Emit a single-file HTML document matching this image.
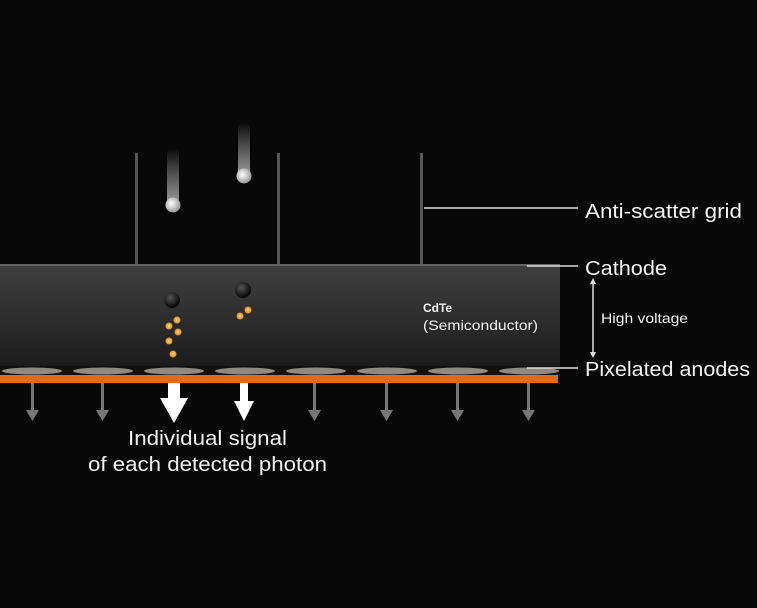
<!DOCTYPE html>
<html><head><meta charset="utf-8"><style>
html,body{margin:0;padding:0;background:#080808;width:757px;height:608px;overflow:hidden}
text{font-family:"Liberation Sans",sans-serif;fill:#f2f2f2}
</style></head><body>
<svg width="757" height="608" viewBox="0 0 757 608" xmlns="http://www.w3.org/2000/svg">
<defs>
<linearGradient id="slab" x1="0" y1="0" x2="0" y2="1">
<stop offset="0" stop-color="#404040"/><stop offset="1" stop-color="#1c1c1c"/></linearGradient>
<linearGradient id="tail" x1="0" y1="0" x2="0" y2="1">
<stop offset="0" stop-color="#fff" stop-opacity="0"/><stop offset="1" stop-color="#ddd" stop-opacity="0.7"/></linearGradient>
<radialGradient id="ball" cx="0.4" cy="0.4" r="0.6">
<stop offset="0" stop-color="#fff"/><stop offset="1" stop-color="#999"/></radialGradient>
<radialGradient id="dball" cx="0.4" cy="0.35" r="0.6">
<stop offset="0" stop-color="#555"/><stop offset="1" stop-color="#0a0a0a"/></radialGradient>
<radialGradient id="od" cx="0.5" cy="0.5" r="0.5">
<stop offset="0" stop-color="#ffd48a"/><stop offset="1" stop-color="#d98a20"/></radialGradient>
</defs>
<rect width="757" height="608" fill="#080808"/>
<g fill="#555"><rect x="135" y="153" width="3" height="112"/><rect x="277" y="153" width="3" height="112"/><rect x="420" y="153" width="3" height="112"/></g>
<rect x="167" y="148" width="12" height="58" rx="6" fill="url(#tail)"/>
<circle cx="173" cy="205" r="7.5" fill="url(#ball)"/>
<rect x="238" y="122" width="12" height="56" rx="6" fill="url(#tail)"/>
<circle cx="244" cy="176" r="7.5" fill="url(#ball)"/>
<rect x="0" y="265" width="560" height="101" fill="url(#slab)"/>
<rect x="0" y="264" width="560" height="2" fill="#666"/>
<rect x="0" y="366" width="560" height="9" fill="#111"/>
<g fill="#8a8a8a">
<ellipse cx="32" cy="371" rx="30" ry="3.5"/><ellipse cx="103" cy="371" rx="30" ry="3.5"/><ellipse cx="174" cy="371" rx="30" ry="3.5"/><ellipse cx="245" cy="371" rx="30" ry="3.5"/><ellipse cx="316" cy="371" rx="30" ry="3.5"/><ellipse cx="387" cy="371" rx="30" ry="3.5"/><ellipse cx="458" cy="371" rx="30" ry="3.5"/><ellipse cx="529" cy="371" rx="30" ry="3.5"/>
</g>
<rect x="0" y="375" width="558" height="8" fill="#e8690f"/>
<circle cx="172" cy="300" r="8" fill="url(#dball)"/>
<circle cx="243" cy="290" r="8" fill="url(#dball)"/>
<g fill="url(#od)">
<circle cx="177" cy="320" r="3.5"/><circle cx="169" cy="326" r="3.5"/><circle cx="178" cy="332" r="3.5"/><circle cx="169" cy="341" r="3.5"/><circle cx="173" cy="354" r="3.5"/>
<circle cx="248" cy="310" r="3.5"/><circle cx="240" cy="316" r="3.5"/>
</g>
<g fill="#777">
<rect x="31" y="383" width="3" height="28"/><polygon points="26,410 39,410 32.5,421"/>
<rect x="101" y="383" width="3" height="28"/><polygon points="96,410 109,410 102.5,421"/>
<rect x="313" y="383" width="3" height="28"/><polygon points="308,410 321,410 314.5,421"/>
<rect x="385" y="383" width="3" height="28"/><polygon points="380,410 393,410 386.5,421"/>
<rect x="456" y="383" width="3" height="28"/><polygon points="451,410 464,410 457.5,421"/>
<rect x="527" y="383" width="3" height="28"/><polygon points="522,410 535,410 528.5,421"/>
</g>
<g fill="#fff">
<rect x="168" y="383" width="12" height="17"/><polygon points="160,398 188,398 174,423"/>
<rect x="240" y="383" width="8" height="20"/><polygon points="234,401 254,401 244,421"/>
</g>
<g stroke="#ddd" stroke-width="1.5">
<line x1="424" y1="208" x2="578" y2="208"/>
<line x1="527" y1="266" x2="578" y2="266"/>
<line x1="527" y1="368" x2="578" y2="368"/>
<line x1="593" y1="283" x2="593" y2="353"/>
</g>
<polygon points="590,284 596,284 593,278" fill="#ddd"/>
<polygon points="590,352 596,352 593,358" fill="#ddd"/>
<text x="585" y="218" font-size="20" textLength="157" lengthAdjust="spacingAndGlyphs">Anti-scatter grid</text>
<text x="585" y="275" font-size="20" textLength="82" lengthAdjust="spacingAndGlyphs">Cathode</text>
<text x="585" y="376" font-size="20" textLength="165" lengthAdjust="spacingAndGlyphs">Pixelated anodes</text>
<text x="601" y="323" font-size="14" textLength="87" lengthAdjust="spacingAndGlyphs">High voltage</text>
<text x="423" y="312" font-size="12" font-weight="bold">CdTe</text>
<text x="423" y="330" font-size="14" textLength="115" lengthAdjust="spacingAndGlyphs">(Semiconductor)</text>
<text x="128" y="445" font-size="20" textLength="159" lengthAdjust="spacingAndGlyphs">Individual signal</text>
<text x="88" y="471" font-size="20" textLength="239" lengthAdjust="spacingAndGlyphs">of each detected photon</text>
</svg>
</body></html>
